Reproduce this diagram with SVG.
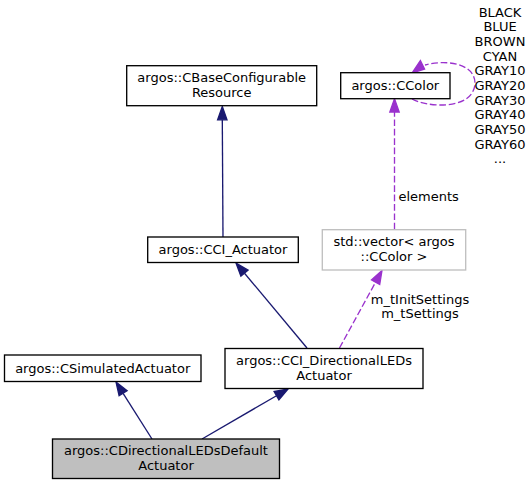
<svg xmlns="http://www.w3.org/2000/svg" width="531" height="485" viewBox="0 0 531 485">
<style>
text{font-family:"DejaVu Sans",sans-serif;font-size:13px;fill:#000}
.c{text-anchor:middle}
.box{fill:#fff;stroke:#000;stroke-width:1.33}
.gbox{fill:#bfbfbf;stroke:#000;stroke-width:1.33}
.vbox{fill:#fff;stroke:#bfbfbf;stroke-width:1.33}
.inh{fill:none;stroke:#191970;stroke-width:1.33}
.inha{fill:#191970;stroke:#191970;stroke-width:1.33}
.use{fill:none;stroke:#9a32cd;stroke-width:1.33;stroke-dasharray:6.7,2.7}
.usea{fill:#9a32cd;stroke:#9a32cd;stroke-width:1.33}
</style>
<rect width="531" height="485" fill="#fff"/>
<g id="connectors">
<path class="inh" d="M152,439 L123.1,393.3"/>
<polygon class="inha" points="116,382 127.1,390.8 119.1,395.8"/>
<path class="inh" d="M202,439 L276.5,395.7"/>
<polygon class="inha" points="288,389 278.9,399.8 274.1,391.6"/>
<path class="inh" d="M307,348 L244.5,273.2"/>
<polygon class="inha" points="236,263 248.1,270.2 240.9,276.2"/>
<path class="inh" d="M223,237 L222.3,119.8"/>
<polygon class="inha" points="222.3,106.5 227,119.8 217.6,119.8"/>
<path class="use" d="M339.5,348 L375.6,282.2"/>
<polygon class="usea" points="382,270.5 379.7,284.4 371.5,279.9"/>
<text x="420" y="303.5" class="c">m_tInitSettings</text>
<text x="420" y="317.5" class="c">m_tSettings</text>
<path class="use" d="M394.5,229.5 L394.5,112"/>
<polygon class="usea" points="394.5,98.7 399.2,112 389.8,112"/>
<text x="398.5" y="201">elements</text>
<path class="use" d="M412,99 C425,106 452,108 466,99 C478,91 478,75 466,68 C456,62 440,61 425,65"/>
<polygon class="usea" points="412,73 420.4,60.6 424.6,69"/>
<text x="500" y="16.5" class="c">BLACK</text>
<text x="500" y="31.2" class="c">BLUE</text>
<text x="500" y="45.8" class="c">BROWN</text>
<text x="500" y="60.5" class="c">CYAN</text>
<text x="500" y="75.2" class="c">GRAY10</text>
<text x="500" y="89.8" class="c">GRAY20</text>
<text x="500" y="104.5" class="c">GRAY30</text>
<text x="500" y="119.2" class="c">GRAY40</text>
<text x="500" y="133.8" class="c">GRAY50</text>
<text x="500" y="148.5" class="c">GRAY60</text>
<text x="500" y="163.2" class="c">...</text>
</g>
<g id="node-CDirectionalLEDsDefaultActuator">
<rect class="gbox" x="52.5" y="439" width="227" height="39.5"/>
<text x="166" y="455" class="c">argos::CDirectionalLEDsDefault</text>
<text x="166" y="470" class="c">Actuator</text>
</g>
<g id="node-CSimulatedActuator">
<rect class="box" x="4.5" y="355" width="196.5" height="26.5"/>
<text x="102.7" y="372.5" class="c">argos::CSimulatedActuator</text>
</g>
<g id="node-CCI_DirectionalLEDsActuator">
<rect class="box" x="225" y="348.5" width="198" height="40"/>
<text x="324" y="364.5" class="c">argos::CCI_DirectionalLEDs</text>
<text x="324" y="379.5" class="c">Actuator</text>
</g>
<g id="node-CCI_Actuator">
<rect class="box" x="147.7" y="237" width="150.6" height="25.5"/>
<text x="223" y="254" class="c">argos::CCI_Actuator</text>
</g>
<g id="node-CBaseConfigurableResource">
<rect class="box" x="126.7" y="65.7" width="190" height="40"/>
<text x="221.7" y="82" class="c">argos::CBaseConfigurable</text>
<text x="221.7" y="97" class="c">Resource</text>
</g>
<g id="node-vector">
<rect class="vbox" x="322.3" y="229.7" width="143.4" height="40.3"/>
<text x="394" y="246" class="c">std::vector&lt; argos</text>
<text x="394" y="260.5" class="c">::CColor &gt;</text>
</g>
<g id="node-CColor">
<rect class="box" x="340.7" y="72.7" width="109.3" height="26"/>
<text x="395.3" y="90" class="c">argos::CColor</text>
</g>
</svg>
